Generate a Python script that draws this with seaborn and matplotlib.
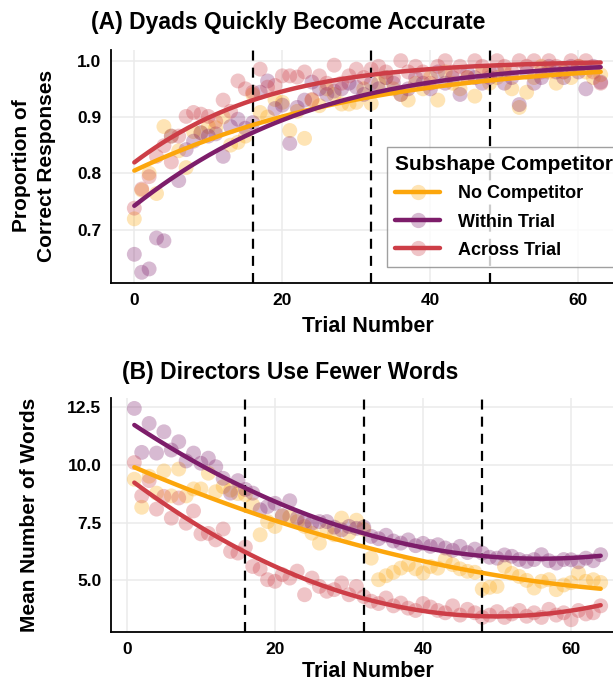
import numpy as np
import pandas as pd
import matplotlib
matplotlib.use("Agg")
import matplotlib.pyplot as plt
import seaborn as sns
from matplotlib.lines import Line2D
from matplotlib.legend_handler import HandlerTuple

conditions = ["No Competitor", "Within Trial", "Across Trial"]
colors = ["#FCA60C", "#7D1D6A", "#CD3E47"]
boundaries = [16, 32, 48]

# Panel A: proportion correct per trial (trials 0..63)
trials_a = list(range(0, 64))
acc_no = [0.719, 0.770, 0.800, 0.764, 0.883, 0.866, 0.840, 0.810, 0.874, 0.872,
          0.883, 0.881, 0.900, 0.850, 0.855, 0.866, 0.940, 0.908, 0.900, 0.931,
          0.926, 0.876, 0.910, 0.862, 0.930, 0.920, 0.950, 0.940, 0.923, 0.923,
          0.926, 0.950, 0.924, 0.960, 0.970, 0.950, 0.940, 0.930, 0.960, 0.950,
          0.970, 0.930, 0.980, 0.960, 0.950, 0.970, 0.937, 0.980, 0.960, 0.970,
          0.980, 0.950, 0.917, 0.944, 0.970, 0.990, 0.980, 0.960, 0.980, 0.970,
          0.990, 0.980, 0.970, 0.975]
acc_within = [0.656, 0.624, 0.630, 0.685, 0.680, 0.866, 0.787, 0.842, 0.857, 0.872,
              0.866, 0.870, 0.830, 0.883, 0.896, 0.880, 0.890, 0.944, 0.964, 0.915,
              0.921, 0.853, 0.917, 0.930, 0.962, 0.950, 0.940, 0.946, 0.950, 0.960,
              0.953, 0.940, 0.960, 0.950, 0.970, 0.960, 0.940, 0.950, 0.970, 0.960,
              0.950, 0.980, 0.960, 0.970, 0.940, 0.980, 0.970, 0.960, 0.970, 0.980,
              0.960, 0.970, 0.922, 0.980, 0.960, 0.970, 0.990, 0.980, 0.970, 0.990,
              0.980, 0.950, 0.990, 0.962]
acc_across = [0.738, 0.772, 0.794, 0.830, 0.849, 0.820, 0.866, 0.901, 0.908, 0.905,
              0.901, 0.892, 0.930, 0.910, 0.964, 0.950, 0.944, 0.985, 0.953, 0.956,
              0.973, 0.973, 0.971, 0.980, 0.931, 0.973, 0.960, 0.992, 0.960, 0.973,
              0.985, 0.970, 0.985, 0.990, 0.980, 0.970, 1.000, 0.980, 0.990, 0.980,
              0.960, 0.990, 1.000, 0.980, 0.990, 0.970, 1.000, 0.990, 0.980, 1.000,
              0.990, 0.980, 1.000, 0.990, 1.000, 0.980, 1.000, 0.990, 0.980, 1.000,
              0.990, 1.000, 0.980, 0.960]

# Panel B: mean number of words per trial (trials 1..64)
trials_b = list(range(1, 65))
words_no = [9.37, 8.16, 9.50, 8.77, 9.73, 8.65, 9.81, 8.65, 8.95, 8.95,
            9.63, 8.83, 9.05, 8.90, 8.75, 8.70, 8.26, 6.97, 7.54, 7.33,
            7.78, 7.75, 7.54, 7.33, 7.04, 6.61, 7.18, 6.97, 7.69, 7.04,
            7.60, 7.20, 5.96, 5.03, 5.20, 5.35, 5.53, 5.68, 5.50, 5.32,
            5.60, 5.53, 5.90, 5.68, 5.50, 5.39, 5.35, 4.63, 4.70, 4.74,
            5.60, 5.30, 5.17, 5.00, 4.67, 4.96, 5.03, 4.60, 4.80, 4.90,
            5.32, 4.96, 5.03, 4.91]
words_within = [12.43, 10.53, 11.78, 10.50, 11.42, 10.63, 10.99, 10.16, 10.50, 10.06,
                10.28, 9.91, 9.41, 8.77, 9.31, 8.93, 8.77, 8.05, 8.19, 8.33,
                7.80, 8.44, 7.69, 7.54, 7.47, 7.54, 7.54, 7.30, 7.18, 7.33,
                7.25, 7.30, 6.90, 6.80, 6.95, 6.70, 6.61, 6.75, 6.50, 6.60,
                6.47, 6.54, 6.40, 6.30, 6.47, 6.20, 6.35, 6.18, 6.00, 5.96,
                6.10, 6.04, 5.90, 5.82, 5.90, 6.11, 5.85, 5.75, 5.90, 5.89,
                5.80, 5.96, 5.85, 6.11]
words_across = [10.09, 8.65, 9.31, 8.08, 8.63, 7.69, 8.56, 7.47, 8.00, 7.01,
                7.03, 6.75, 7.22, 6.25, 6.18, 6.44, 5.60, 5.49, 5.03, 4.96,
                5.25, 5.10, 5.40, 4.38, 5.10, 4.74, 4.53, 4.60, 4.89, 4.38,
                4.74, 4.30, 4.10, 4.00, 4.24, 3.90, 4.02, 3.80, 3.70, 4.00,
                3.85, 3.70, 3.60, 3.90, 3.50, 3.75, 3.60, 3.40, 3.50, 3.65,
                3.40, 3.55, 3.70, 3.45, 3.60, 3.40, 3.75, 3.50, 3.60, 3.30,
                3.70, 3.55, 3.60, 3.90]

df_a = pd.DataFrame({
    "trial": trials_a * 3,
    "value": acc_no + acc_within + acc_across,
    "cond": sum([[c] * len(trials_a) for c in conditions], []),
})
df_b = pd.DataFrame({
    "trial": trials_b * 3,
    "value": words_no + words_within + words_across,
    "cond": sum([[c] * len(trials_b) for c in conditions], []),
})

sns.set_theme(style="whitegrid")
plt.rcParams['font.family'] = ['Liberation Sans', 'DejaVu Sans']
plt.rcParams['font.weight'] = 'bold'
plt.rcParams['text.color'] = 'black'
plt.rcParams['axes.labelcolor'] = 'black'
plt.rcParams['xtick.color'] = 'black'
plt.rcParams['ytick.color'] = 'black'

W, H = 613, 685
fig = plt.figure(figsize=(W / 100, H / 100), dpi=100)
axA = fig.add_axes([111 / W, 1 - 283 / H, 513 / W, 233 / H])
axB = fig.add_axes([111 / W, 1 - 632 / H, 513 / W, 234 / H])

palette = dict(zip(conditions, colors))
LW = 3.2


def logistic_curve(x, p):
    """Binomial GLM (logit link) fitted to the proportions, evaluated on a grid."""
    x = np.asarray(x, float)
    p = np.clip(np.asarray(p, float), 1e-4, 1 - 1e-4)
    X = np.column_stack([np.ones_like(x), x])
    beta = np.zeros(2)
    for _ in range(100):
        eta = X @ beta
        mu = 1 / (1 + np.exp(-eta))
        w = mu * (1 - mu)
        z = eta + (p - mu) / w
        beta = np.linalg.solve(X.T @ (w[:, None] * X), X.T @ (w * z))
    grid = np.linspace(x.min(), x.max(), 200)
    return grid, 1 / (1 + np.exp(-(beta[0] + beta[1] * grid)))


def style(ax, xlim, ylim, yticks, yfmt, labelpad):
    for b in boundaries:
        ax.axvline(b, color="black", lw=1.6, ls=(0, (4.5, 3.2)), zorder=1.5)
    ax.set_xlim(*xlim)
    ax.set_ylim(*ylim)
    ax.set_xticks([0, 20, 40, 60])
    ax.set_yticks(yticks)
    ax.set_yticklabels([yfmt.format(v) for v in yticks])
    ax.grid(True, color="#EBEBEB", lw=1.1)
    ax.set_axisbelow(True)
    for s in ["top", "right"]:
        ax.spines[s].set_visible(False)
    for s in ["left", "bottom"]:
        ax.spines[s].set_visible(True)
        ax.spines[s].set_color("black")
        ax.spines[s].set_linewidth(1.3)
    ax.tick_params(length=0, pad=7, labelsize=12.5, labelcolor="black")
    for lab in ax.get_xticklabels() + ax.get_yticklabels():
        lab.set_fontweight("bold")
    ax.set_xlabel("Trial Number", fontsize=15.5, fontweight="bold",
                  labelpad=labelpad, color="black")
    ax.set_ylabel("")


# Panel A
sns.scatterplot(data=df_a, x="trial", y="value", hue="cond", palette=palette,
                alpha=0.3, s=115, edgecolor="none", legend=False, ax=axA, zorder=1)
for c in conditions:
    sub = df_a[df_a["cond"] == c]
    gx, gy = logistic_curve(sub["trial"], sub["value"])
    sns.lineplot(x=gx, y=gy, color=palette[c], lw=LW, ax=axA, zorder=3)
style(axA, (-3.15, 66.15), (0.605, 1.019), [0.7, 0.8, 0.9, 1.0], "{:.1f}", 6)

# Panel B
sns.scatterplot(data=df_b, x="trial", y="value", hue="cond", palette=palette,
                alpha=0.3, s=115, edgecolor="none", legend=False, ax=axB, zorder=1)
for c in conditions:
    sub = df_b[df_b["cond"] == c]
    sns.regplot(data=sub, x="trial", y="value", order=2, scatter=False, ci=None,
                color=palette[c], line_kws={"lw": LW, "zorder": 3}, ax=axB)
style(axB, (-2.15, 67.15), (2.77, 12.88), [5.0, 7.5, 10.0, 12.5], "{:.1f}", 3)

fig.text(288 / W, 1 - 22 / H, "(A) Dyads Quickly Become Accurate", ha="center", va="center",
         fontsize=16.5, fontweight="bold", color="black")
fig.text(290 / W, 1 - 373 / H, "(B) Directors Use Fewer Words", ha="center", va="center",
         fontsize=16.5, fontweight="bold", color="black")
fig.text(34 / W, 1 - 166 / H, "Proportion of\nCorrect Responses", rotation=90,
         ha="center", va="center", fontsize=15, fontweight="bold", linespacing=1.35,
         color="black")
fig.text(30 / W, 1 - 515 / H, "Mean Number of Words", rotation=90,
         ha="center", va="center", fontsize=15, fontweight="bold", color="black")

handles = []
for c in conditions:
    pt = Line2D([], [], marker="o", ls="none", color=palette[c], alpha=0.3,
                markersize=11, markeredgewidth=0)
    ln = Line2D([], [], color=palette[c], lw=LW)
    handles.append((pt, ln))
leg = fig.legend(handles, conditions, loc="upper left",
                 bbox_to_anchor=(387 / W, 1 - 147 / H), bbox_transform=fig.transFigure,
                 borderaxespad=0,
                 title="Subshape Competitor", fontsize=13, title_fontsize=15,
                 handler_map={tuple: HandlerTuple(ndivide=1)},
                 handlelength=2.5, handletextpad=1.0, labelspacing=0.62,
                 frameon=True, fancybox=False, borderpad=0.45)
leg._legend_box.align = "left"
leg.get_frame().set_edgecolor("#888888")
leg.get_frame().set_linewidth(1.0)
leg.get_title().set_fontweight("bold")
leg.get_title().set_color("black")
for t in leg.get_texts():
    t.set_fontweight("bold")
    t.set_color("black")

fig.savefig("out.png", dpi=100)
